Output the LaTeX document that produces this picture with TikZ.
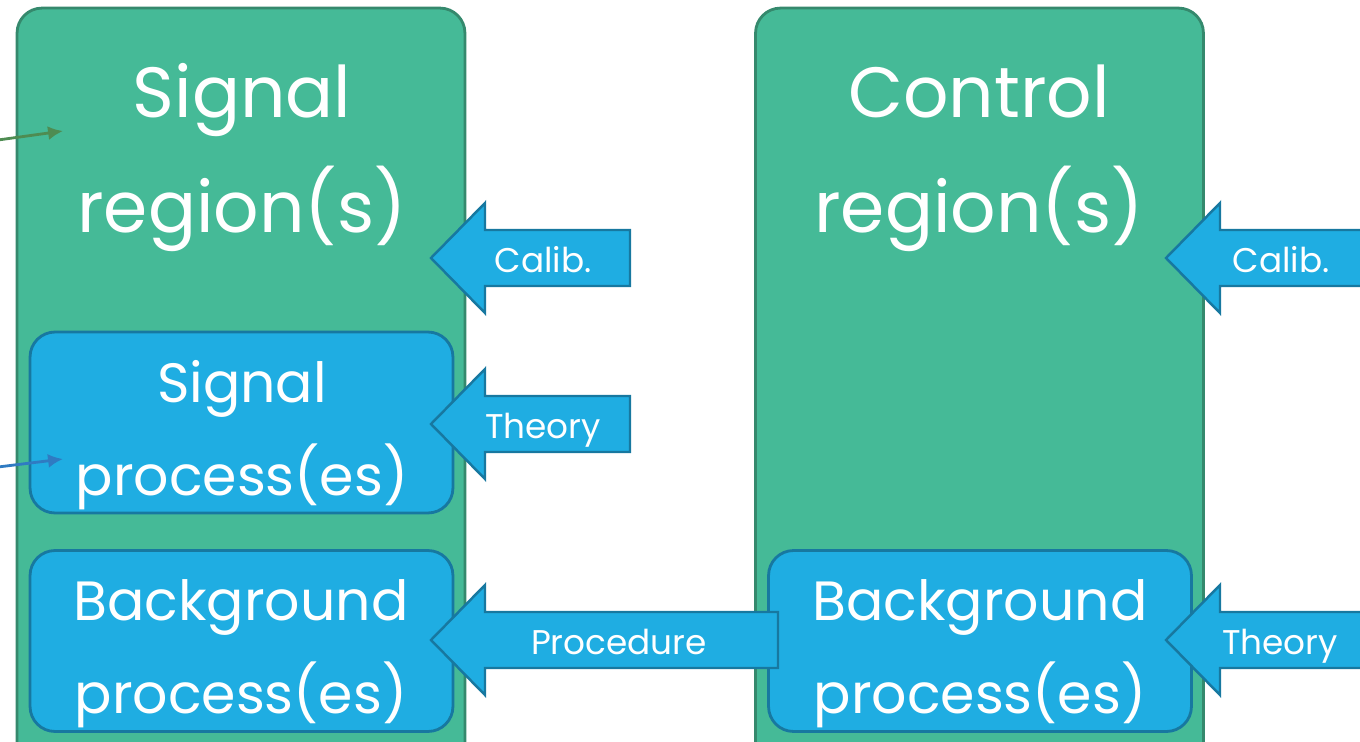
\documentclass[tikz,border=0pt]{standalone}
\usepackage{fontspec}
\setmainfont{Poppins}
\usetikzlibrary{arrows.meta,positioning}
\definecolor{regiongreen}{HTML}{45BA97}
\definecolor{regionline}{HTML}{35896D}
\definecolor{procblue}{HTML}{1FADE2}
\definecolor{procline}{HTML}{1778A0}
\definecolor{pointgreen}{HTML}{4E8C52}
\definecolor{pointblue}{HTML}{2F7BC2}
\begin{document}
\begin{tikzpicture}[x=0.02cm,y=-0.02cm,
region/.style={draw=regionline,fill=regiongreen,line width=1.6pt,rounded corners=0.5cm,
  minimum width=8.96cm,minimum height=15.44cm},
process/.style={draw=procline,fill=procblue,line width=1.6pt,rounded corners=0.5cm,
  minimum width=8.46cm,minimum height=3.62cm},
blockarrow/.style={draw=procline,fill=procblue,line width=1.4pt,line join=miter},
pointer/.style={line width=1.6pt,-{Latex[length=8.5pt,width=8pt]}},
bigtext/.style={text=white,align=center,font=\fontsize{40.5}{65}\selectfont,anchor=base},
proctext/.style={text=white,align=center,font=\fontsize{31.5}{52.5}\selectfont,anchor=base},
arrowtext/.style={text=white,font=\fontsize{19.5}{24}\selectfont,anchor=base}]
\useasboundingbox (0,0) rectangle (1360,741);
\clip (0,0) rectangle (1360,741);
\node[region] (sigreg) at (241,394) {};
\node[region] (ctrlreg) at (979.5,394) {};
\node[process] (sigproc) at (241.5,422.5) {};
\node[process] (bkgA) at (241.5,641) {};
\node[process] (bkgB) at (980,641) {};
\node[bigtext] (sigregtxt) at (242,232) {Signal\\region(s)};
\node[bigtext] (ctrlregtxt) at (979,232) {Control\\region(s)};
\node[proctext] (sigproctxt) at (242,495) {Signal\\process(es)};
\node[proctext] (bkgAtxt) at (241,713) {Background\\process(es)};
\node[proctext] (bkgBtxt) at (980,713) {Background\\process(es)};
% block arrows
\coordinate (calibA) at (431,258);
\coordinate (theoryA) at (431,424);
\coordinate (proc) at (431,640);
\coordinate (calibB) at (1166,258);
\coordinate (theoryB) at (1166,640);
\draw[blockarrow] (calibA) -- ++(54,-55) -- ++(0,27) -- ++(145,0) -- ++(0,56)
 -- ++(-145,0) -- ++(0,27) -- cycle;
\draw[blockarrow] (theoryA) -- ++(54,-55) -- ++(0,27) -- ++(145,0) -- ++(0,56)
 -- ++(-145,0) -- ++(0,27) -- cycle;
\draw[blockarrow] (proc) -- ++(54,-55) -- ++(0,27) -- ++(293,0) -- ++(0,56)
 -- ++(-293,0) -- ++(0,27) -- cycle;
\draw[blockarrow] (calibB) -- ++(54,-55) -- ++(0,27) -- ++(250,0) -- ++(0,56)
 -- ++(-250,0) -- ++(0,27) -- cycle;
\draw[blockarrow] (theoryB) -- ++(54,-55) -- ++(0,27) -- ++(250,0) -- ++(0,56)
 -- ++(-250,0) -- ++(0,27) -- cycle;
\node[arrowtext] (calibAtxt) at (543,272) {Calib.};
\node[arrowtext] (theoryAtxt) at (543,438) {Theory};
\node[arrowtext] (proctxt) at (619,654) {Procedure};
\node[arrowtext] (calibBtxt) at (1281,272) {Calib.};
\node[arrowtext] (theoryBtxt) at (1280,654) {Theory};
% pointers from the left
\coordinate (sigsrc) at (-2,140);
\coordinate (sigdst) at (63,131);
\coordinate (procsrc) at (-2,467);
\coordinate (procdst) at (63,459);
\draw[pointer,pointgreen] (sigsrc) -- (sigdst);
\draw[pointer,pointblue] (procsrc) -- (procdst);
\end{tikzpicture}
\end{document}
